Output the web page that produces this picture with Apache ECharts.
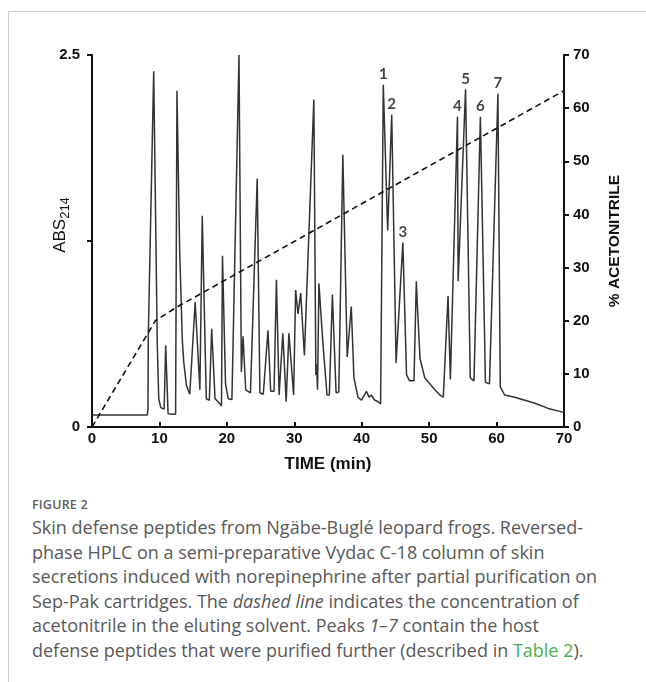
<!DOCTYPE html>
<html>
<head>
<meta charset="utf-8">
<script src="https://cdn.jsdelivr.net/npm/echarts@6/dist/echarts.min.js"></script>
<style>
  html, body { margin: 0; padding: 0; background: #fff; width: 646px; height: 682px; overflow: hidden; }
  #frame { position: absolute; left: 8px; top: 11px; width: 700px; height: 700px;
           border-top: 1px solid #cfcfcf; border-left: 1px solid #cfcfcf; }
  #chart { position: absolute; left: 0; top: 0; width: 646px; height: 490px; }
  #caption { position: absolute; left: 32px; top: 496px; width: 610px;
             font-family: "Open Sans", "Noto Sans", sans-serif; color: #595959; }
  #caption .fig { font-size: 12.5px; font-weight: 600; letter-spacing: 0.2px; color: #606060; margin-bottom: 2px; }
  #caption .txt { font-size: 18px; line-height: 24.6px; font-weight: 400; white-space: nowrap; }
  #caption .lnk { color: #4caf50; }
</style>
</head>
<body>
<div id="frame"></div>
<div id="chart"></div>
<div id="caption">
  <div class="fig">FIGURE 2</div>
  <div class="txt">Skin defense peptides from Ngäbe-Buglé leopard frogs. Reversed-<br>phase HPLC on a semi-preparative Vydac C-18 column of skin<br>secretions induced with norepinephrine after partial purification on<br>Sep-Pak cartridges. The <i>dashed line</i> indicates the concentration of<br>acetonitrile in the eluting solvent. Peaks <i>1–7</i> contain the host<br>defense peptides that were purified further (described in <span class="lnk">Table 2</span>).</div>
</div>
<script>
// Elution time (min) and absorbance at 214 nm of the chromatogram trace
var traceTime = [
  0, 8.2, 8.3, 8.35, 9.15, 9.68, 9.9, 10.2, 10.7, 10.93, 11.28, 11.77, 12.4, 12.6,
  13.0, 13.4, 13.6, 14.0, 14.5, 15.3, 16.0, 16.35, 16.95, 17.4, 17.75, 18.25, 19.0,
  19.2, 19.35, 19.8, 20.2, 20.75, 21.8, 22.15, 22.4, 22.8, 23.5, 24.5, 24.9, 25.4,
  26.1, 26.5, 27.0, 27.35, 27.75, 28.3, 28.8, 29.2, 29.9, 30.2, 30.55, 30.95, 31.5,
  32.9, 33.2, 33.3, 33.45, 33.65, 34.25, 34.85, 35.2, 35.65, 36.2, 36.6, 37.2, 37.85,
  38.05, 38.45, 38.85, 39.45, 39.95, 40.7, 41.1, 41.4, 41.95, 42.45, 42.8, 43.2, 43.85,
  44.45, 45.1, 45.3, 46.1, 46.65, 47.1, 47.75, 48.1, 48.25, 48.5, 48.65, 49.35, 50.1,
  50.85, 51.6, 52.1, 52.8, 53.15, 54.2, 54.3, 55.4, 56.1, 56.65, 57.6, 58.35, 58.95,
  60.2, 60.55, 61.2, 62.7, 62.9, 65.7, 67.65, 69.85, 70
];
var traceAbs = [
  0.08, 0.08, 0.12, 0.61, 2.39, 0.56, 0.19, 0.13, 0.12, 0.55, 0.09, 0.085, 0.085, 2.26,
  1.19, 0.58, 0.44, 0.28, 0.22, 0.84, 0.25, 1.42, 0.19, 0.18, 0.66, 0.19, 0.155,
  0.14, 1.15, 0.29, 0.19, 0.185, 2.5, 0.37, 0.61, 0.25, 0.23, 1.67, 0.23, 0.22,
  0.65, 0.24, 0.24, 0.99, 0.215, 0.63, 0.17, 0.63, 0.215, 0.92, 0.76, 0.9, 0.48,
  2.2, 0.35, 0.42, 0.25, 0.965, 0.56, 0.215, 0.215, 0.89, 0.23, 0.235, 1.83, 0.47,
  0.47, 0.81, 0.33, 0.2, 0.18, 0.24, 0.2, 0.215, 0.18, 0.17, 0.155, 2.3, 1.32,
  2.1, 0.43, 0.43, 1.24, 0.35, 0.31, 0.31, 0.98, 0.82, 0.83, 0.46, 0.33, 0.29,
  0.25, 0.215, 0.2, 0.88, 0.32, 2.085, 0.98, 2.27, 0.33, 0.31, 2.085, 0.3, 0.29,
  2.24, 0.27, 0.215, 0.2, 0.2, 0.16, 0.125, 0.1, 0.1
];

// Numbered peaks holding the host defense peptides
var peakNames = ['1', '2', '3', '4', '5', '6', '7'];
var peakTimes = [43.2, 44.45, 46.1, 54.2, 55.4, 57.6, 60.2];

// Acetonitrile gradient (% in the eluting solvent)
var gradientTime = [0, 9.4, 12.5, 70];
var gradientPct = [0, 20, 22.5, 63.3];

// Axis ticks
var timeTicks = [0, 10, 20, 30, 40, 50, 60, 70];
var absTicks = [0, 1.25, 2.5];
var absTickLabels = ['0', '', '2.5'];
var pctTicks = [0, 10, 20, 30, 40, 50, 60, 70];

var axisFont = '"Liberation Sans", Arial, sans-serif';

var traceData = traceTime.map(function (t, i) { return [t, traceAbs[i]]; });
var gradientData = gradientTime.map(function (t, i) { return [t, gradientPct[i]]; });
var peakData = peakNames.map(function (n, i) {
  var idx = traceTime.indexOf(peakTimes[i]);
  return { name: n, value: [peakTimes[i], traceAbs[idx]] };
});

var chart = echarts.init(document.getElementById('chart'), null, { renderer: 'canvas' });
chart.setOption({
  animation: false,
  backgroundColor: 'transparent',
  grid: { left: 92, top: 55, width: 472, height: 372, containLabel: false },
  xAxis: {
    type: 'value',
    min: timeTicks[0], max: timeTicks[timeTicks.length - 1], interval: 10,
    name: 'TIME (min)', nameLocation: 'middle', nameGap: 29, nameMoveOverlap: false,
    nameTextStyle: { color: '#111', fontSize: 17, fontWeight: 'bold', fontFamily: axisFont },
    axisLine: { lineStyle: { color: '#111', width: 2 } },
    axisTick: { inside: true, length: 5, lineStyle: { color: '#111', width: 2 } },
    axisLabel: { color: '#111', fontSize: 15, fontWeight: 'bold', fontFamily: axisFont, margin: 4 },
    splitLine: { show: false }
  },
  yAxis: [
    {
      type: 'value', position: 'left',
      min: absTicks[0], max: absTicks[absTicks.length - 1], interval: 1.25,
      name: '{a|ABS}{s|214}', nameLocation: 'middle', nameRotate: 90, nameGap: 20,
      nameMoveOverlap: false,
      nameTextStyle: {
        padding: [0, 0, 0, 32],
        rich: {
          a: { fontSize: 17, color: '#111', fontFamily: axisFont },
          s: { fontSize: 13, color: '#111', fontFamily: axisFont, padding: [11, 0, 0, 0] }
        }
      },
      axisLine: { show: true, lineStyle: { color: '#111', width: 2 } },
      axisTick: { show: true, length: 5, lineStyle: { color: '#111', width: 2 } },
      axisLabel: {
        color: '#111', fontSize: 15, fontWeight: 'bold', fontFamily: axisFont, margin: 12,
        formatter: function (v) { return absTickLabels[absTicks.indexOf(v)]; }
      },
      splitLine: { show: false }
    },
    {
      type: 'value', position: 'right',
      min: pctTicks[0], max: pctTicks[pctTicks.length - 1], interval: 10,
      name: '% ACETONITRILE', nameLocation: 'middle', nameRotate: 90, nameGap: 43,
      nameMoveOverlap: false,
      nameTextStyle: { color: '#111', fontSize: 15.5, fontWeight: 'bold', fontFamily: axisFont },
      axisLine: { show: true, lineStyle: { color: '#111', width: 2 } },
      axisTick: { show: true, length: 5, lineStyle: { color: '#111', width: 2 } },
      axisLabel: { color: '#111', fontSize: 15, fontWeight: 'bold', fontFamily: axisFont, margin: 9 },
      splitLine: { show: false }
    }
  ],
  series: [
    {
      name: 'ABS214', type: 'line', yAxisIndex: 0,
      data: traceData, showSymbol: false, silent: true,
      lineStyle: { color: '#333', width: 1.5 }
    },
    {
      name: 'Acetonitrile', type: 'line', yAxisIndex: 1,
      data: gradientData, showSymbol: false, silent: true,
      lineStyle: { color: '#111', width: 1.6, type: [6, 4] }
    },
    {
      name: 'Peaks', type: 'scatter', yAxisIndex: 0,
      data: peakData, symbolSize: 0, silent: true,
      label: {
        show: true, position: 'top', distance: 3,
        formatter: '{b}', color: '#111', fontSize: 15, fontWeight: 'bold',
        fontFamily: 'Lato, "Open Sans", sans-serif'
      }
    }
  ]
});
</script>
</body>
</html>
